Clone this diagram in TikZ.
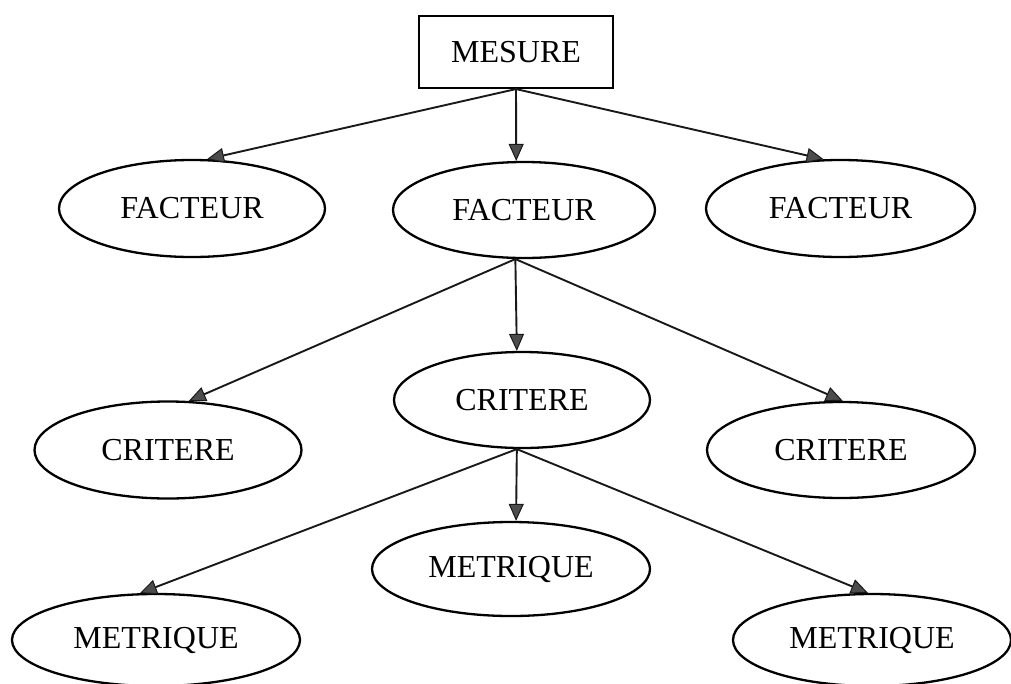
\documentclass[tikz,border=0pt]{standalone}
\usepackage{fontspec}
\setmainfont{Liberation Serif}
\usetikzlibrary{shapes.geometric,arrows.meta}
\begin{document}
\begin{tikzpicture}[x=1pt,y=-1pt,
  every node/.style={font=\fontsize{32}{38}\selectfont, inner sep=0pt},
  oval/.style={ellipse, draw, line width=2.3pt, minimum width=#1},
  oval/.default=266pt,
  boxnode/.style={rectangle, draw, line width=2.1pt, minimum width=194pt, minimum height=72pt},
  link/.style={line width=1.9pt, draw=black!90,
    -{Triangle[length=17pt,width=15pt,fill=black!70,line width=1pt]}}]
  \clip (0,0) rectangle (1011,683);
  \fill[white] (0,0) rectangle (1011,683);

  % root
  \node[boxnode] (m) at (516,52) {MESURE};

  % factors
  \node[oval, minimum height=97pt] (f1) at (192,208.5) {FACTEUR};
  \node[oval=262pt, minimum height=96pt] (f2) at (524,210) {FACTEUR};
  \node[oval=269pt, minimum height=97pt] (f3) at (840.5,208.5) {FACTEUR};

  % criteria
  \node[oval=267pt, minimum height=97pt] (c1) at (168,450) {CRITERE};
  \node[oval=256pt, minimum height=96pt] (c2) at (522,400) {CRITERE};
  \node[oval=268pt, minimum height=96pt] (c3) at (841,450) {CRITERE};

  % metrics
  \node[oval=288pt, minimum height=92pt] (k1) at (156,640) {METRIQUE};
  \node[oval=278pt, minimum height=94pt] (k2) at (511,569) {METRIQUE};
  \node[oval=278pt, minimum height=92pt] (k3) at (872,640) {METRIQUE};

  % connectors
  \draw[link] (m.south) -- (f1.73);
  \draw[link] (m.south) -- (f2.99.5);
  \draw[link] (m.south) -- (f3.109.5);

  \draw[link] (f2.260.5) -- (c1.67);
  \draw[link] (f2.260.5) -- (c2.96);
  \draw[link] (f2.260.5) -- (c3.88);

  \draw[link] (c2.264) -- (k1.109.6);
  \draw[link] (c2.264) -- (k2.84);
  \draw[link] (c2.264) -- (k3.95);
\end{tikzpicture}
\end{document}
